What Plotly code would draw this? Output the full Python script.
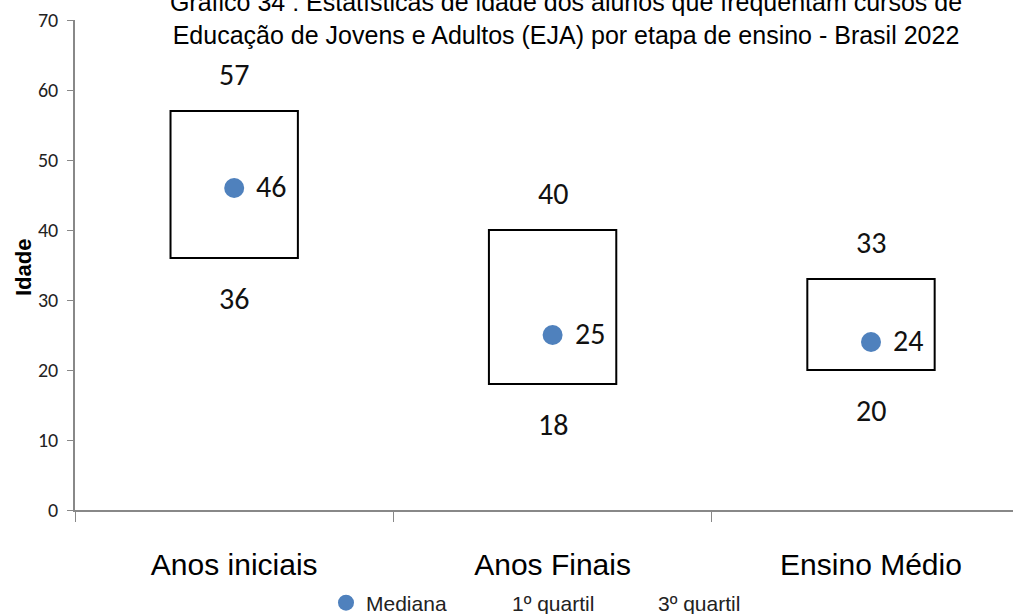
import plotly.graph_objects as go

categories = ["Anos iniciais", "Anos Finais", "Ensino Médio"]
q1 = [36, 18, 20]
median = [46, 25, 24]
q3 = [57, 40, 33]

title_lines = [
    "Gráfico 34 : Estatísticas de idade dos alunos que frequentam cursos de",
    "Educação de Jovens e Adultos (EJA) por etapa de ensino - Brasil 2022",
]

NARROW = "Liberation Sans Narrow, Arial Narrow, Liberation Sans, Arial, sans-serif"
LABEL = "Carlito, Calibri, Open Sans, sans-serif"
BLUE = "#4F81BD"

fig = go.Figure()
fig.add_trace(go.Scatter(x=categories, y=median, mode="markers", name="Mediana",
                         marker=dict(size=20, color=BLUE), cliponaxis=False))
fig.add_trace(go.Scatter(x=categories, y=q1, mode="markers", name="1º quartil",
                         marker=dict(size=10, color="rgba(0,0,0,0)")))
fig.add_trace(go.Scatter(x=categories, y=q3, mode="markers", name="3º quartil",
                         marker=dict(size=10, color="rgba(0,0,0,0)")))

half = 0.2
for i, c in enumerate(categories):
    fig.add_shape(type="rect", xref="x", yref="y", x0=i - half, x1=i + half,
                  y0=q1[i], y1=q3[i], line=dict(color="black", width=2),
                  fillcolor="rgba(0,0,0,0)", layer="below")
    fig.add_annotation(x=c, y=q3[i], text=str(q3[i]), showarrow=False, yshift=37,
                       font=dict(family=LABEL, size=30, color="#111"))
    fig.add_annotation(x=c, y=q1[i], text=str(q1[i]), showarrow=False, yshift=-40,
                       font=dict(family=LABEL, size=30, color="#111"))
    fig.add_annotation(x=c, y=median[i], text=str(median[i]), showarrow=False,
                       xanchor="left", xshift=20, yshift=2,
                       font=dict(family=LABEL, size=30, color="#111"))

fig.add_annotation(xref="paper", yref="paper", x=-52 / 938, y=(510 - 268) / 490,
                   text="<b>Idade</b>", textangle=-90, showarrow=False,
                   xanchor="center", yanchor="middle",
                   font=dict(family=NARROW, size=22, color="black"))

fig.update_layout(
    width=1013, height=614,
    margin=dict(l=75, r=0, t=20, b=104, autoexpand=False),
    paper_bgcolor="white", plot_bgcolor="white",
    title=dict(text="<br>".join(title_lines), x=566 / 1013, xanchor="center",
               yref="container", y=1 - 11 / 614, yanchor="middle",
               font=dict(family=NARROW, size=25, color="black")),
    showlegend=True,
    legend=dict(orientation="h", x=(545 - 75) / 938, xanchor="center", xref="paper",
                y=-(603 - 510) / 490, yanchor="middle", yref="paper",
                entrywidth=101, entrywidthmode="pixels",
                bgcolor="rgba(0,0,0,0)",
                font=dict(family=NARROW, size=21, color="#222")),
    xaxis=dict(range=[-0.5, 2.446], showline=True, linecolor="#888", linewidth=1.5,
               ticks="outside", ticklen=10, tickcolor="#888", tickson="boundaries",
               showgrid=False, zeroline=False, automargin=False, tickangle=0,
               ticklabelstandoff=27,
               tickfont=dict(family=NARROW, size=30, color="black")),
    yaxis=dict(range=[0, 70], dtick=10, showline=True, linecolor="#888", linewidth=1.5,
               ticks="outside", ticklen=6, tickcolor="#888", showgrid=False,
               zeroline=False, automargin=False, ticklabelstandoff=5,
               tickfont=dict(family=LABEL, size=20, color="#222")),
)

fig.write_html("out.html", config={"displayModeBar": False},
               post_script="document.body.style.margin='0';")
